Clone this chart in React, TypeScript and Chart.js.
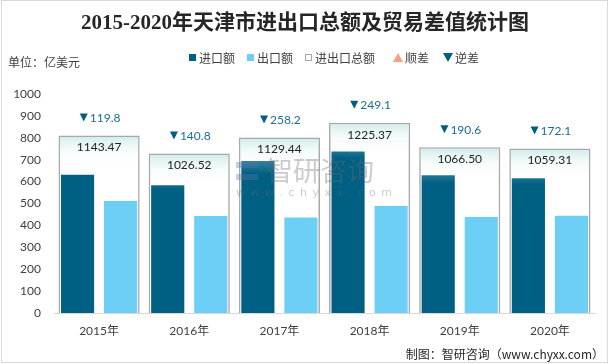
import React, { useEffect, useRef } from 'react';
import { Chart, registerables } from 'chart.js';

Chart.register(...registerables);

const categories = ['2015年', '2016年', '2017年', '2018年', '2019年', '2020年'];
const importValues = [631.6, 583.7, 693.8, 737.2, 628.6, 615.7];
const exportValues = [511.8, 442.9, 435.6, 488.1, 438.0, 443.6];
const totalValues = [1143.47, 1026.52, 1129.44, 1225.37, 1066.5, 1059.31];
const balanceValues = [119.8, 140.8, 258.2, 249.1, 190.6, 172.1];
const yMin = 0;
const yMax = 1000;
const yStep = 100;
const totalAxisMax = 1410;

const IMPORT_COLOR = '#006083';
const EXPORT_COLOR = '#6dcff6';
const BOX_BORDER = '#a9a9a9';
const DEFICIT_COLOR = '#005f7f';
const SURPLUS_COLOR = '#f4a183';
const NUM_FONT = 'Lato, "Noto Sans CJK SC", sans-serif';

export default function App() {
  const ref = useRef<HTMLCanvasElement>(null);

  useEffect(() => {
    const canvas = ref.current;
    if (!canvas) return;

    const labelPlugin = {
      id: 'boxLabels',
      afterDatasetsDraw(chart: any) {
        const ctx = chart.ctx as CanvasRenderingContext2D;
        const meta = chart.getDatasetMeta(2);
        ctx.save();
        meta.data.forEach((bar: any, i: number) => {
          const x = bar.x;
          const top = bar.y;
          ctx.font = '12px ' + NUM_FONT;
          ctx.textBaseline = 'middle';
          ctx.textAlign = 'center';
          ctx.fillStyle = '#222222';
          ctx.fillText(totalValues[i].toFixed(2), x, top + 12);

          const txt = balanceValues[i].toFixed(1);
          const tw = ctx.measureText(txt).width;
          const triW = 8;
          const gap = 2;
          const groupW = triW + gap + tw;
          const sx = x - groupW / 2 + 1;
          const cy = top - 18;
          ctx.fillStyle = DEFICIT_COLOR;
          ctx.beginPath();
          ctx.moveTo(sx, cy - 4);
          ctx.lineTo(sx + triW, cy - 4);
          ctx.lineTo(sx + triW / 2, cy + 4);
          ctx.closePath();
          ctx.fill();
          ctx.fillStyle = '#1d6d93';
          ctx.textAlign = 'left';
          ctx.fillText(txt, sx + triW + gap, cy + 0.5);
        });

        // watermark
        ctx.globalAlpha = 0.35;
        ctx.fillStyle = '#6b6b6b';
        ctx.textAlign = 'left';
        ctx.textBaseline = 'middle';
        ctx.font = '27px "Noto Sans CJK SC", sans-serif';
        ctx.fillText('智研咨询', 266, 171);
        ctx.font = '11px "DejaVu Sans", sans-serif';
        const wm = 'www.chyxx.com';
        let wx = 236;
        for (const ch of wm) {
          ctx.fillText(ch, wx, 193);
          wx += ctx.measureText(ch).width + 5.5;
        }
        ctx.fillStyle = '#5a79a8';
        ctx.fillRect(236, 162, 22, 6);
        ctx.fillRect(236, 174, 22, 6);
        ctx.restore();
      },
    };

    const chart = new Chart(canvas, {
      type: 'bar',
      data: {
        labels: categories,
        datasets: [
          {
            label: '进口额',
            data: importValues,
            backgroundColor: IMPORT_COLOR,
            categoryPercentage: 0.955,
            barPercentage: 0.77,
            yAxisID: 'y',
            order: 1,
          },
          {
            label: '出口额',
            data: exportValues,
            backgroundColor: EXPORT_COLOR,
            categoryPercentage: 0.955,
            barPercentage: 0.77,
            yAxisID: 'y',
            order: 1,
          },
          {
            label: '进出口总额',
            data: totalValues,
            yAxisID: 'y2',
            grouped: false,
            barPercentage: 0.9,
            categoryPercentage: 1,
            borderColor: BOX_BORDER,
            borderWidth: 1.5,
            order: 0,
            backgroundColor: (c: any) => {
              const ch = c.chart;
              const sc = ch.scales && ch.scales.y2;
              if (!sc || c.raw == null || c.type !== 'data') return 'rgba(255,255,255,0)';
              const top = sc.getPixelForValue(c.raw);
              if (!isFinite(top)) return 'rgba(255,255,255,0)';
              const g = ch.ctx.createLinearGradient(0, top, 0, top + 36);
              g.addColorStop(0, 'rgba(200,232,231,0.9)');
              g.addColorStop(0.45, 'rgba(232,246,245,0.35)');
              g.addColorStop(1, 'rgba(255,255,255,0)');
              return g;
            },
          } as any,
        ],
      },
      options: {
        responsive: false,
        animation: false,
        layout: { padding: { left: 0, right: 15, top: 94, bottom: 21 } },
        plugins: {
          legend: { display: false },
          title: { display: false },
          tooltip: { enabled: false },
        },
        scales: {
          x: {
            grid: { display: false, drawTicks: false },
            border: { display: true, color: '#d9d9d9', width: 1 },
            ticks: {
              color: '#404040',
              font: { size: 12, family: NUM_FONT },
              padding: 11,
            },
            afterFit(s: any) {
              s.height = 30;
            },
          },
          y: {
            min: yMin,
            max: yMax,
            grid: { display: false, drawTicks: false },
            border: { display: false },
            ticks: {
              stepSize: yStep,
              color: '#404040',
              font: { size: 12, family: NUM_FONT },
              padding: 13,
              callback: (v: any) => String(v),
            },
            afterFit(s: any) {
              s.width = 54;
            },
          },
          y2: {
            display: false,
            min: 0,
            max: totalAxisMax,
          },
        },
      } as any,
      plugins: [labelPlugin],
    });

    return () => chart.destroy();
  }, []);

  const legendItem = (marker: React.ReactNode, text: string, left: number) => (
    <div
      style={{
        position: 'absolute',
        left,
        top: 49,
        height: 16,
        display: 'flex',
        alignItems: 'center',
        fontSize: 12,
        color: '#404040',
        whiteSpace: 'nowrap',
      }}
    >
      {marker}
      <span>{text}</span>
    </div>
  );

  const square = (bg: string, border?: string) => (
    <span
      style={{
        display: 'inline-block',
        width: 7,
        height: 7,
        background: bg,
        border: border ? `1px solid ${border}` : 'none',
        boxSizing: 'border-box',
        marginRight: 3,
      }}
    />
  );

  const triangle = (color: string, up: boolean) => (
    <span
      style={{
        display: 'inline-block',
        width: 0,
        height: 0,
        borderLeft: '5px solid transparent',
        borderRight: '5px solid transparent',
        ...(up ? { borderBottom: `9px solid ${color}` } : { borderTop: `9px solid ${color}` }),
        marginRight: 2,
      }}
    />
  );

  return (
    <div
      style={{
        position: 'fixed',
        left: 0,
        top: 0,
        width: 610,
        height: 364,
        background: '#ffffff',
        fontFamily: '"Noto Sans CJK SC", "Noto Sans", sans-serif',
        overflow: 'hidden',
      }}
    >
      <canvas ref={ref} width={610} height={364} style={{ position: 'absolute', left: 0, top: 0 }} />
      <div
        style={{
          position: 'absolute',
          left: 1,
          top: 0,
          width: 605,
          height: 361,
          border: '1px solid #d9d9d9',
          pointerEvents: 'none',
        }}
      />
      <div
        style={{
          position: 'absolute',
          left: 0,
          top: 8,
          width: 610,
          textAlign: 'center',
          fontFamily: '"Liberation Serif", "Noto Sans CJK SC", serif',
          fontWeight: 'bold',
          fontSize: 21,
          lineHeight: '28px',
          color: '#262626',
        }}
      >
        2015-2020年天津市进出口总额及贸易差值统计图
      </div>
      <div
        style={{
          position: 'absolute',
          left: 8,
          top: 54,
          fontSize: 12,
          lineHeight: '16px',
          color: '#404040',
        }}
      >
        单位：亿美元
      </div>
      {legendItem(square(IMPORT_COLOR), '进口额', 189)}
      {legendItem(square(EXPORT_COLOR), '出口额', 247)}
      {legendItem(square('#ffffff', '#a6a6a6'), '进出口总额', 305)}
      {legendItem(triangle(SURPLUS_COLOR, true), '顺差', 393)}
      {legendItem(triangle(DEFICIT_COLOR, false), '逆差', 443)}
      <div
        style={{
          position: 'absolute',
          right: 6,
          top: 346,
          fontSize: 12,
          lineHeight: '16px',
          color: '#262626',
          whiteSpace: 'nowrap',
        }}
      >
        制图：智研咨询（www.chyxx.com）
      </div>
    </div>
  );
}
